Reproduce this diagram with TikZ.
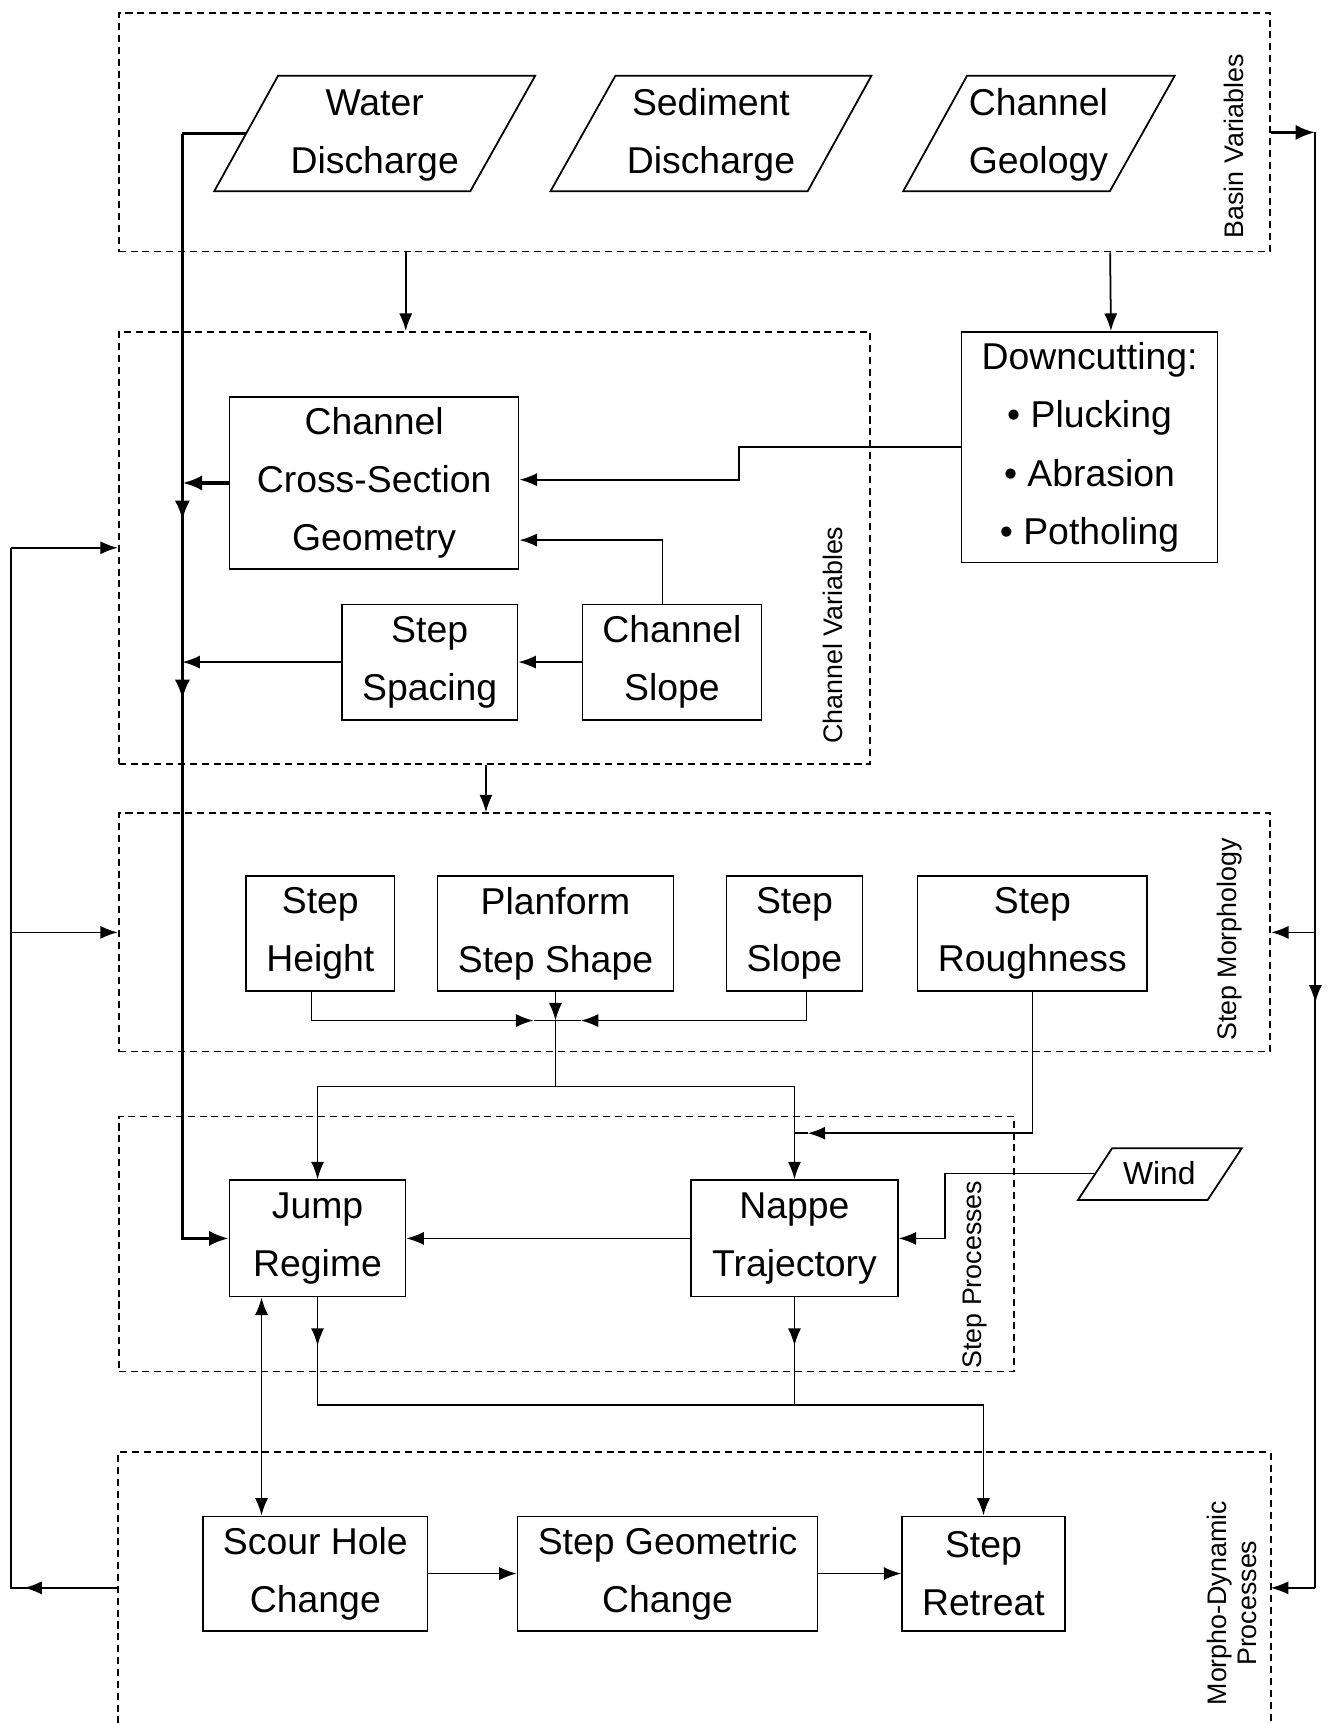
\documentclass[tikz,border=0pt]{standalone}
\usepackage{fontspec}
\setmainfont{Liberation Sans}
\usetikzlibrary{arrows.meta,calc}
\newcommand\mainf{\fontsize{17}{26.5}\selectfont}
\newcommand\labf{\fontsize{12.2}{14}\selectfont}
\newcommand\bx[7][box]{\node[#1,minimum width={(#5-#3)*0.5pt},minimum height={(#6-#4)*0.5pt}] (#2) at ({(#3+#5)/2},{(#4+#6)/2}) {#7};}
\tikzset{
  box/.style={draw,line width=0.75pt,inner sep=0pt,align=center,font=\mainf},
  txt/.style={inner sep=0pt,align=center,font=\mainf},
  grp/.style={draw,dash pattern=on 3.2pt off 2.2pt,line width=0.75pt,inner sep=0pt},
  grpn/.style={inner sep=0pt},
  lab/.style={inner sep=0pt,align=center,font=\labf,rotate=90},
  ln/.style={line width=0.8pt},
  arr/.style={line width=0.8pt,-{Latex[length=8pt,width=6pt]}},
  dblarr/.style={line width=0.8pt,{Latex[length=8pt,width=6pt]}-{Latex[length=8pt,width=6pt]}},
  thk/.style={line width=1.7pt},
  thkarr/.style={line width=1.7pt,-{Latex[length=9pt,width=7pt]}},
}
\begin{document}
\begin{tikzpicture}[x={(0.5pt,0)},y={(0,-0.5pt)}]
\useasboundingbox (0,0) rectangle (1212,1568);
% groups
\bx[grp]{basin}{108}{12}{1156}{229}{}
\bx[grp]{cv}{108}{302}{792}{695}{}
\bx[grp]{sm}{108}{740}{1156}{957}{}
\bx[grp]{spr}{108}{1016}{923}{1248}{}
\bx[grpn]{md}{108}{1322}{1156}{1568}{}
\draw[dash pattern=on 3.2pt off 2.2pt,line width=0.75pt] (md.south west) -- (md.north west) -- (md.north east) -- (md.south east);
% group labels
\node[lab] (lbv) at (1123,133) {Basin Variables};
\node[lab] (lcv) at (758,578) {Channel Variables};
\node[lab] (lsm) at (1119,855) {Step Morphology};
\node[lab] (lsp) at (887,1160) {Step Processes};
\node[lab] (lmd) at (1121,1459) {Morpho-Dynamic\\Processes};
% parallelograms
\draw[ln] (253,69) -- (487,69) -- (428,174) -- (195,174) -- cycle;
\node[txt] (wd) at (341,123) {Water\\Discharge};
\draw[ln] (560,69) -- (793,69) -- (735,174) -- (501,174) -- cycle;
\node[txt] (sd) at (647,123) {Sediment\\Discharge};
\draw[ln] (880,69) -- (1069,69) -- (1010,174) -- (822,174) -- cycle;
\node[txt] (cg) at (945,123) {Channel\\Geology};
\draw[ln] (1012,1045) -- (1130,1045) -- (1099,1092) -- (981,1092) -- cycle;
\node[txt,font=\fontsize{14.5}{20}\selectfont] (wi) at (1055,1068) {Wind};
\coordinate (wdl) at (224,121.5);
\coordinate (wil) at (996,1068);
% boxes
\bx{ccsg}{209}{361}{472}{518}{Channel\\Cross-Section\\Geometry}
\bx{dc}{875}{302}{1108}{512}{Downcutting:\\• Plucking\\• Abrasion\\• Potholing}
\bx{ss}{311}{550}{471}{655}{Step\\Spacing}
\bx{cs}{530}{550}{693}{655}{Channel\\Slope}
\bx{sh}{224}{797}{359}{902}{Step\\Height}
\bx{pf}{398}{797}{613}{902}{Planform\\Step Shape}
\bx{sl}{661}{797}{785}{902}{Step\\Slope}
\bx{sr}{835}{797}{1044}{902}{Step\\Roughness}
\bx{jr}{209}{1074}{369}{1180}{Jump\\Regime}
\bx{nt}{629}{1074}{817}{1180}{Nappe\\Trajectory}
\bx{sc}{185}{1380}{389}{1484}{Scour Hole\\Change}
\bx{sg}{471}{1380}{744}{1484}{Step Geometric\\Change}
\bx{st}{821}{1380}{969}{1484}{Step\\Retreat}
% basin outputs
\draw[arr] ($(basin.south west)+(262,0)$) -- ($(cv.north west)+(262,0)$);
\draw[arr] ($(basin.south west)+(903,0)$) -- ($(dc.north)+(19.5,0)$);
% downcutting & channel slope to ccsg
\draw[arr] (dc.west) -- ++(-202,0) |- ($(ccsg.east)+(0,-3)$);
\draw[arr] ($(cs.north)+(-8.5,0)$) |- ($(ccsg.east)+(0,52)$);
\draw[arr] (cs.west) -- (ss.east);
% thick water discharge bus
\coordinate (tb) at (166,121.5);
\draw[thk] (wdl) -- (tb);
\draw[thkarr] (tb) |- (jr.west);
\draw[thkarr] (ccsg.west) -- (tb |- ccsg.west);
\draw[arr] (ss.west) -- (tb |- ss.west);
\draw[thkarr] ($(tb |- ccsg.west)+(0,5)$) -- ($(tb |- ccsg.west)+(0,34)$);
\draw[thkarr] ($(tb |- ss.west)+(0,5)$) -- ($(tb |- ss.west)+(0,34)$);
% right bus
\coordinate (rb) at (1197,120.5);
\draw[thkarr] (basin.east) -- (rb);
\draw[ln] (rb) -- (rb |- md.east);
\draw[arr] (rb |- sm.east) -- ($(rb |- sm.east)+(0,64)$);
\draw[arr] (rb |- sm.east) -- (sm.east);
\draw[arr] (rb |- md.east) -- (md.east);
% left bus
\coordinate (lb) at (10,1445);
\draw[ln] (md.west) -- (lb) -- (lb |- cv.west);
\draw[arr] (md.west) -- ($(lb)+(12,0)$);
\draw[arr] (lb |- cv.west) -- (cv.west);
\draw[arr] (lb |- sm.west) -- (sm.west);
% channel variables to step morphology
\draw[arr] ($(cv.south west)+(335,0)$) -- ($(sm.north west)+(335,0)$);
% step morphology junction
\coordinate (jn) at ($(pf.south)+(0,26)$);
\coordinate (sp) at ($(jn)+(0,60)$);
\draw[arr] ($(sh.south)+(-8,0)$) |- ($(jn)+(-20,0)$);
\draw[arr] ($(sl.south)+(11,0)$) |- ($(jn)+(23,0)$);
\draw[ln] ($(jn)+(-20,0)$) -- ($(jn)+(23,0)$);
\draw[arr] (pf.south) -- (jn);
\draw[ln] (jn) -- (sp);
\draw[arr] (sp) -| (jr.north);
\draw[arr] (sp) -| (nt.north);
\draw[arr] (sr.south) |- ($(nt.north)+(12,-42)$);
\draw[ln] ($(nt.north)+(12,-42)$) -- ($(nt.north)+(0,-42)$);
% wind
\draw[arr] (wil) -- (860,1068) |- (nt.east);
% step processes
\draw[arr] (nt.west) -- (jr.east);
\draw[arr] (jr.south) -- ++(0,44);
\draw[arr] (nt.south) -- ++(0,44);
\draw[ln] (nt.south) -- ++(0,98);
\draw[arr] (jr.south) -- ++(0,98) -| (st.north);
\coordinate (da) at ($(jr.south)+(-51,0)$);
\draw[dblarr] (da) -- (da |- sc.north);
% morpho-dynamic
\draw[arr] (sc.east) -- (sg.west);
\draw[arr] (sg.east) -- (st.west);
\end{tikzpicture}
\end{document}
